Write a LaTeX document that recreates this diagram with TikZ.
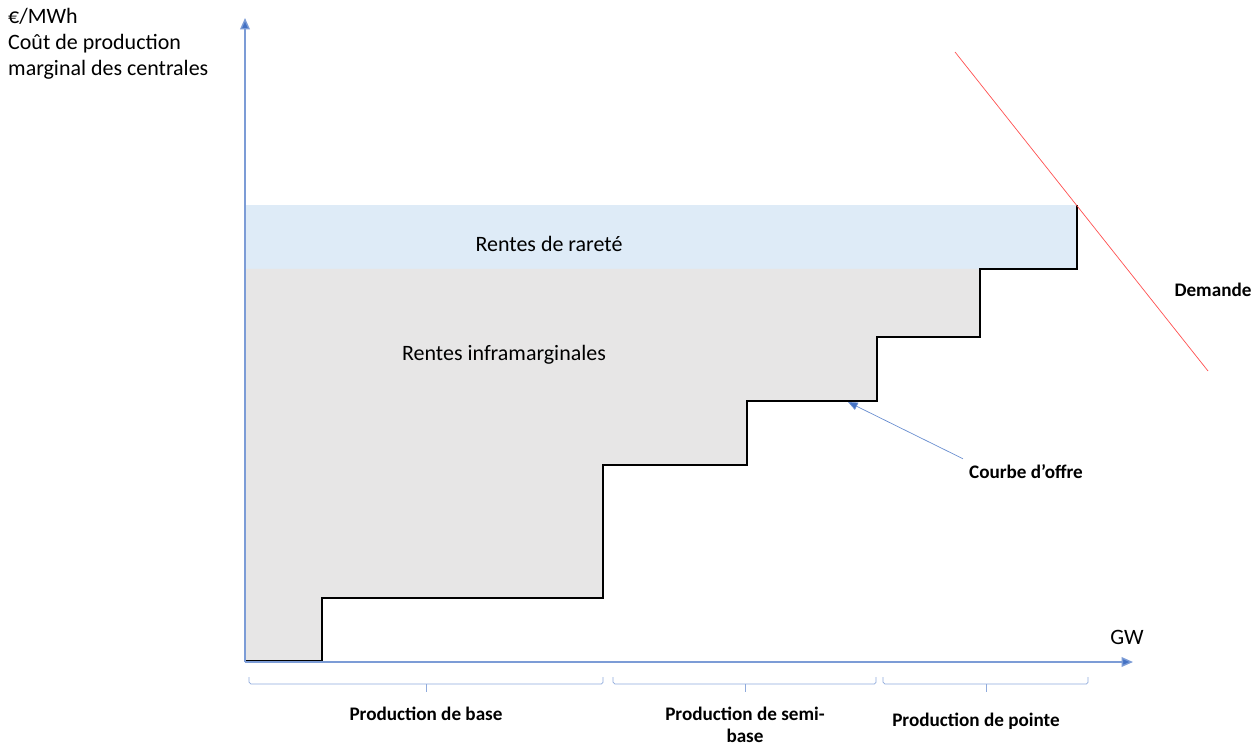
\documentclass[tikz,border=0pt]{standalone}
\usepackage{fontspec}
\setmainfont{Carlito}
\usetikzlibrary{arrows.meta, positioning}
\definecolor{axisblue}{RGB}{68,114,196}
\definecolor{braceblue}{RGB}{143,170,220}
\definecolor{rarete}{RGB}{222,235,247}
\definecolor{infra}{RGB}{231,230,230}
\definecolor{demand}{RGB}{255,80,80}

\begin{document}
\begin{tikzpicture} [x = 0.02cm, y = -0.02cm,
    axis/.style = {draw=axisblue!70!white, thick, -{Triangle[length=6.5pt, width=5.5pt, fill=axisblue]}},
    brace/.style = {draw=braceblue, rounded corners=1pt},
    lbl/.style = {font=\bfseries\fontsize{10.9}{12.5}\selectfont, align=center},
    txt/.style = {font=\fontsize{12.5}{14.8}\selectfont, align=left}]
\useasboundingbox (0,0) rectangle (1257,746);
% zones
\fill [rarete] (245,205) rectangle (1077,269);
\fill [infra] (245,269) -- (980,269) -- (980,337) -- (877,337) -- (877,401)
    -- (747,401) -- (747,465) -- (603,465) -- (603,598) -- (322,598)
    -- (322,662) -- (245,662) -- cycle;
% courbe d'offre
\draw [black, line width=0.6pt] (245,661) -- (322,661) -- (322,598) -- (603,598)
    -- (603,465) -- (747,465) -- (747,401) -- (877,401) -- (877,337)
    -- (980,337) -- (980,269) -- (1077,269) -- (1077,205);
% axes
\coordinate (O) at (245,662);
\coordinate (ytop) at (245,18);
\coordinate (xend) at (1133,662);
\draw [axis] (O) -- (ytop);
\draw [axis] (O) -- (xend);
\node (ylab) [txt, anchor=north west] at (2,2) {€/MWh\\Coût de production\\marginal des centrales};
\node (gw) [txt] at (1127,637) {GW};
% demande
\coordinate (d1) at (955,52);
\coordinate (d2) at (1208,371);
\draw [demand] (d1) -- (d2);
\node (dem) [lbl] at (1213,290) {Demande};
% rentes
\node (rar) [txt] at (549,244) {Rentes de rareté};
\node (inf) [txt] at (504,355) {Rentes inframarginales};
\node (offre) [lbl] at (1026,472) {Courbe d’offre};
\coordinate (tip) at (848,402);
\draw [axisblue!80!white, -{Triangle[length=5.5pt, width=4.5pt, fill=axisblue]}] (offre.north west) -- (tip);
% segments de production
\draw [brace] (249,677) -- (249,684) -- (603,684) -- (603,677);
\draw [brace] (426,684) -- (426,692);
\draw [brace] (613,677) -- (613,684) -- (876,684) -- (876,677);
\draw [brace] (745,684) -- (745,692);
\draw [brace] (883,677) -- (883,684) -- (1088,684) -- (1088,677);
\draw [brace] (986,684) -- (986,692);
\node (base) [lbl] at (426,714) {Production de base};
\node (semi) [lbl] at (745,725) {Production de semi-\\base};
\node (pointe) [lbl] at (976,721) {Production de pointe};
\end{tikzpicture}
\end{document}
